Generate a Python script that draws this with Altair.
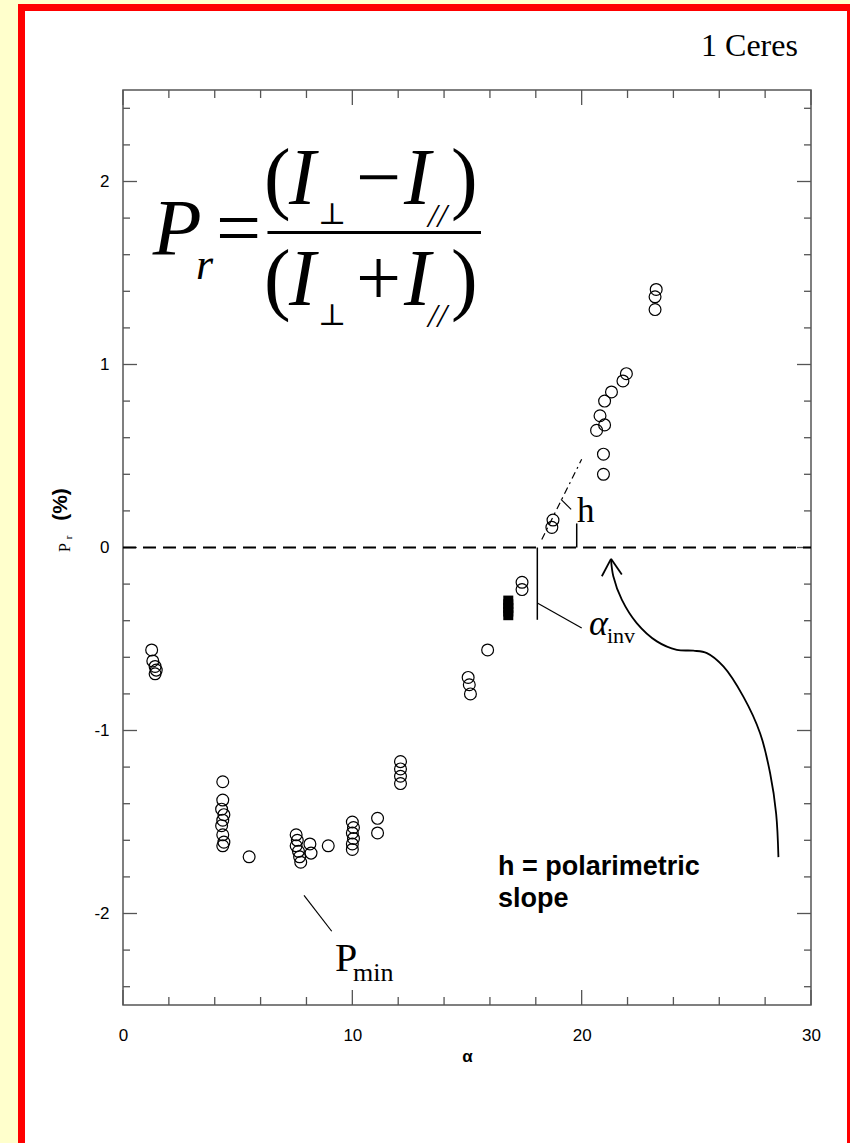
import altair as alt
import pandas as pd

# Polarization phase curve of 1 Ceres: phase angle alpha (deg) vs Pr (%)
alpha_open = [1.25, 1.30, 1.40, 1.45, 1.40,
              4.35, 4.35, 4.30, 4.40, 4.35, 4.30, 4.35, 4.40, 4.35,
              5.50,
              7.55, 7.60, 7.55, 7.65, 7.70, 7.75,
              8.15, 8.20, 8.95,
              10.00, 10.05, 10.00, 10.05, 10.00, 10.00,
              11.10, 11.10,
              12.10, 12.10, 12.10, 12.10,
              15.05, 15.10, 15.15, 15.90,
              17.40, 17.40,
              18.70, 18.75,
              20.95, 20.95, 20.65, 21.00, 20.80, 21.00, 21.30, 21.80, 21.95,
              23.20, 23.20, 23.25]
pr_open = [-0.56, -0.62, -0.65, -0.67, -0.69,
           -1.28, -1.38, -1.43, -1.46, -1.49, -1.52, -1.57, -1.61, -1.63,
           -1.69,
           -1.57, -1.60, -1.63, -1.66, -1.69, -1.72,
           -1.62, -1.67, -1.63,
           -1.50, -1.53, -1.56, -1.59, -1.62, -1.65,
           -1.48, -1.56,
           -1.17, -1.21, -1.25, -1.29,
           -0.71, -0.75, -0.80, -0.56,
           -0.19, -0.23,
           0.11, 0.15,
           0.40, 0.51, 0.64, 0.67, 0.72, 0.80, 0.85, 0.91, 0.95,
           1.30, 1.37, 1.41]

alpha_filled = [16.80, 16.80, 16.80, 16.80, 16.80]
pr_filled = [-0.29, -0.31, -0.33, -0.35, -0.37]

# Axis tick positions
x_labels = [0, 10, 20, 30]
x_major = [0, 10, 20, 30]
x_minor = [2, 4, 6, 8, 12, 14, 16, 18, 22, 24, 26, 28]
y_labels = [-2, -1, 0, 1, 2]
y_major = [-2, -1, 0, 1, 2]
y_minor = [-2.4, -2.2, -1.8, -1.6, -1.4, -1.2, -0.8, -0.6, -0.4, -0.2,
           0.2, 0.4, 0.6, 0.8, 1.2, 1.4, 1.6, 1.8, 2.2, 2.4]

# Curved arrow pointing at the zero-polarization line
arrow_x = [21.28, 21.38, 21.75, 22.40, 23.28, 24.15, 24.87, 25.46, 26.18,
           27.05, 27.78, 28.22, 28.48, 28.58]
arrow_y = [-0.066, -0.157, -0.285, -0.413, -0.513, -0.559, -0.564, -0.577,
           -0.650, -0.815, -1.015, -1.235, -1.454, -1.692]

W, H = 688, 915
SERIF = "Liberation Serif, DejaVu Serif"
SANS = "Liberation Sans, Arial"
NARROW = "Liberation Sans Narrow, Liberation Sans, Arial"

xs = alt.Scale(domain=[0, 30], nice=False, zero=False)
ys = alt.Scale(domain=[-2.5, 2.5], nice=False, zero=False)

# One axis definition shared by every layer so that they merge cleanly
AX = alt.Axis(values=x_labels, ticks=False, domain=False, grid=False, labelFlush=False,
              labelExpr="toString(datum.value)",
              labelFont=NARROW, labelFontSize=17, labelColor="black", labelPadding=22,
              title="α", titleFont=SANS, titleFontSize=17, titleFontWeight="bold",
              titleColor="black", titlePadding=5, zindex=2)
AY = alt.Axis(values=y_labels, ticks=False, domain=False, grid=False,
              labelExpr="toString(datum.value)",
              labelFont=NARROW, labelFontSize=17, labelColor="black", labelPadding=14,
              title="", zindex=2)


def X(f="x"):
    return alt.X(f"{f}:Q", scale=xs, axis=AX)


def Y(f="y"):
    return alt.Y(f"{f}:Q", scale=ys, axis=AY)


one = pd.DataFrame({"k": [0]})

# Page background: white card with a red border
card = alt.Chart(one).mark_rect(fill="white", stroke="#ff0000", strokeWidth=7).encode(
    x=alt.value(-101.5), x2=alt.value(727.5), y=alt.value(-82.5), y2=alt.value(1060)
)

frame = alt.Chart(one).mark_rect(fill="white", fillOpacity=0, stroke="#555555", strokeWidth=1.5).encode(
    x=alt.value(0), x2=alt.value(W), y=alt.value(0), y2=alt.value(H)
)

TICK = dict(color="#555555", strokeWidth=1.3)


def xticks(vals, length):
    d = pd.DataFrame({"v": vals})
    top = alt.Chart(d).mark_rule(**TICK).encode(x=X("v"), y=alt.value(0), y2=alt.value(length))
    bot = alt.Chart(d).mark_rule(**TICK).encode(x=X("v"), y=alt.value(H), y2=alt.value(H - length))
    return [top, bot]


def yticks(vals, length):
    d = pd.DataFrame({"v": vals})
    left = alt.Chart(d).mark_rule(**TICK).encode(y=Y("v"), x=alt.value(0), x2=alt.value(length))
    right = alt.Chart(d).mark_rule(**TICK).encode(y=Y("v"), x=alt.value(W), x2=alt.value(W - length))
    return [left, right]


ticks = xticks(x_major, 15) + xticks(x_minor, 8) + yticks(y_major, 14) + yticks(y_minor, 7)

zero_line = alt.Chart(pd.DataFrame({"y": [0]})).mark_rule(
    color="black", strokeWidth=2, strokeDash=[13, 7]
).encode(y=Y("y"), x=alt.value(0), x2=alt.value(W))

open_pts = alt.Chart(pd.DataFrame({"alpha": alpha_open, "pr": pr_open})).mark_point(
    shape="circle", filled=False, size=140, color="black", strokeWidth=1.2, opacity=1
).encode(x=X("alpha"), y=Y("pr"))

filled_pts = alt.Chart(pd.DataFrame({"alpha": alpha_filled, "pr": pr_filled})).mark_point(
    shape="square", filled=True, size=100, color="black", opacity=1
).encode(x=X("alpha"), y=Y("pr"))

# Annotation segments: leaders, alpha_inv and h markers, fraction bar, arrow head
seg = pd.DataFrame({
    "x":  [7.893, 18.066, 18.066, 19.784, 19.10, 6.30, 21.28, 21.28],
    "y":  [-1.901, 0.0, -0.303, 0.0, 0.263, 1.721, -0.062, -0.062],
    "x2": [9.101, 18.066, 20.002, 19.784, 19.54, 15.61, 20.88, 21.75],
    "y2": [-2.097, -0.395, -0.440, 0.1315, 0.208, 1.721, -0.157, -0.148],
    "w":  [1.2, 1.5, 1.2, 1.5, 1.2, 3.0, 1.8, 1.8],
})
segments = alt.Chart(seg).mark_rule(color="black").encode(
    x=X("x"), y=Y("y"), x2=alt.X2("x2:Q"), y2=alt.Y2("y2:Q"),
    strokeWidth=alt.StrokeWidth("w:Q", scale=None, legend=None),
)

slope_line = alt.Chart(pd.DataFrame({"x": [18.26], "y": [0.044], "x2": [20.0], "y2": [0.482]})).mark_rule(
    color="black", strokeWidth=1.2, strokeDash=[7, 4, 2, 4]
).encode(x=X("x"), y=Y("y"), x2=alt.X2("x2:Q"), y2=alt.Y2("y2:Q"))

arrow = alt.Chart(pd.DataFrame({"x": arrow_x, "y": arrow_y, "i": list(range(len(arrow_x)))})).mark_line(
    color="black", strokeWidth=1.8, interpolate="catmull-rom"
).encode(x=X("x"), y=Y("y"), order=alt.Order("i:Q"))


def texts(rows, **kw):
    d = pd.DataFrame(rows, columns=["x", "y", "t", "s"])
    base = dict(align="left", baseline="alphabetic", color="black")
    base.update(kw)
    return alt.Chart(d).mark_text(**base).encode(
        x=X("x"), y=Y("y"), text="t:N",
        size=alt.Size("s:Q", scale=None, legend=None),
    )


italic_serif = texts([
    (1.30, 1.600, "P", 80),
    (3.18, 1.465, "r", 44),
    (7.24, 1.879, "I", 80),
    (12.25, 1.879, "I", 80),
    (7.24, 1.326, "I", 80),
    (12.25, 1.326, "I", 80),
    (13.30, 1.751, "//", 34),
    (13.30, 1.205, "//", 34),
    (20.32, -0.477, "α", 36),
], font=SERIF, fontStyle="italic")

upright_serif = texts([
    (4.05, 1.600, "=", 80),
    (6.15, 1.879, "(", 80),
    (14.30, 1.879, ")", 80),
    (10.16, 1.879, "−", 80),
    (6.15, 1.326, "(", 80),
    (14.30, 1.326, ")", 80),
    (10.16, 1.326, "+", 80),
    (8.50, 1.770, "⊥", 30),
    (8.50, 1.216, "⊥", 30),
    (19.80, 0.142, "h", 35),
    (9.244, -2.312, "P", 40),
    (10.03, -2.367, "min", 26),
    (21.105, -0.521, "inv", 22),
], font=SERIF)

ceres = texts([(29.43, 2.685, "1 Ceres", 32)], font=SERIF, align="right")

slope_note = texts([
    (16.35, -1.792, "h = polarimetric", 27),
    (16.35, -1.967, "slope", 27),
], font=SANS, fontWeight="bold")

y_title_pct = texts([(-2.70, 0.235, "(%)", 21)], font=SANS, fontWeight="bold",
                    angle=270, align="center", baseline="middle")
y_title_p = texts([(-2.55, 0.0, "P", 16), (-2.36, 0.055, "r", 11)], font=SERIF,
                  angle=270, align="center", baseline="middle")

chart = alt.layer(
    card, open_pts, frame, *ticks, zero_line, filled_pts, segments, slope_line, arrow,
    italic_serif, upright_serif, ceres, slope_note, y_title_pct, y_title_p,
).properties(
    width=W, height=H,
    autosize=alt.AutoSizeParams(type="none"),
    padding={"left": 123, "top": 90, "right": 39, "bottom": 138},
).configure(background="#FFFFCC").configure_view(stroke="transparent")

chart.save("out.html", embed_options={"renderer": "svg", "actions": False})
